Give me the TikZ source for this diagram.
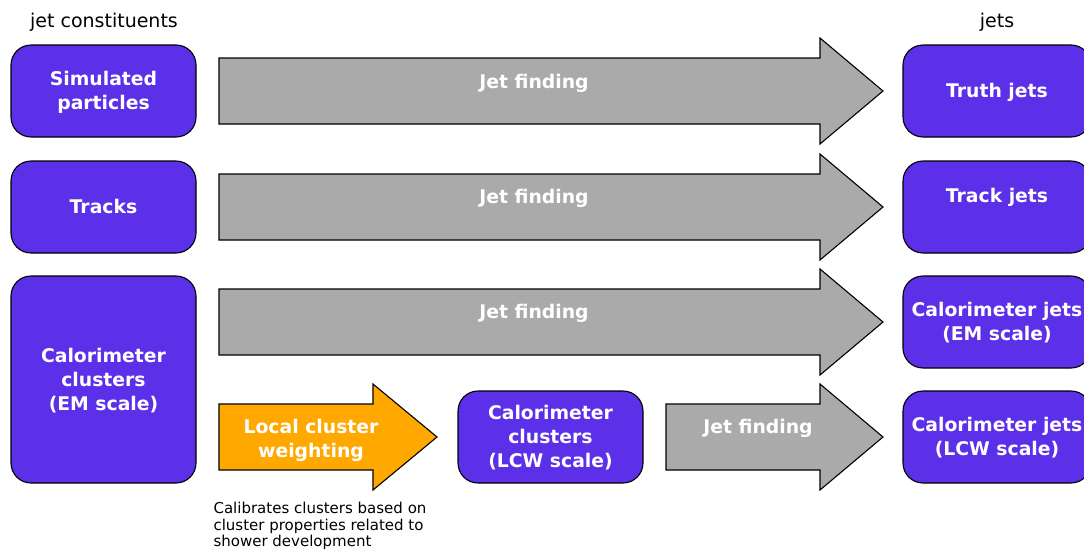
\documentclass[tikz,border=0pt]{standalone}
\usepackage{fontspec}
\setmainfont{DejaVu Sans}
\usepackage{tikz}
\usetikzlibrary{positioning}

\definecolor{boxblue}{RGB}{92,48,232}
\definecolor{findgray}{RGB}{170,170,170}
\definecolor{lcworange}{RGB}{255,168,0}

\tikzset{
  box/.style={draw=black,line width=1.1pt,fill=boxblue,rounded corners=20pt,
    minimum width=185pt,align=center,text=white,text depth=0.5pt,
    font=\bfseries\fontsize{18.8}{24}\selectfont},
  blockarrow/.style={draw=black,line width=1.1pt,line join=miter},
  arrowlabel/.style={text=white,align=center,font=\bfseries\fontsize{18.8}{24}\selectfont},
  plainlabel/.style={text=black,font=\fontsize{19}{22}\selectfont},
  notelabel/.style={text=black,align=left,font=\fontsize{15}{16.5}\selectfont}
}

\begin{document}
\begin{tikzpicture}[x=1pt,y=-1pt]
\useasboundingbox (0,0) rectangle (1084,552);
\clip (0,0) rectangle (1084,552);

% column titles
\node[plainlabel] (constit) at (104,22) {jet constituents};
\node[plainlabel] (jetstitle) at (997,22) {jets};

% constituents
\node[box,minimum height=92pt] (sim) at (103.5,91) {Simulated\\particles};
\node[box,minimum height=92pt] (trk) at (103.5,207) {Tracks};
\node[box,minimum height=207pt] (clus) at (103.5,379.5) {Calorimeter\\clusters\\(EM scale)};
\node[box,minimum height=92pt] (lcwclus) at (550.5,437) {Calorimeter\\clusters\\(LCW scale)};

% jets
\node[box,minimum width=188pt,minimum height=92pt] (truth) at (997,91) {Truth jets};
\node[box,minimum width=188pt,minimum height=92pt,text depth=24pt] (trkjet) at (997,207) {Track jets};
\node[box,minimum width=188pt,minimum height=92pt] (emjet) at (997,322) {Calorimeter jets\\(EM scale)};
\node[box,minimum width=188pt,minimum height=92pt] (lcwjet) at (997,437) {Calorimeter jets\\(LCW scale)};

% jet finding arrows
\draw[blockarrow,fill=findgray] (219,58) -- (820,58) -- (820,38) -- (883,91)
  -- (820,144) -- (820,124) -- (219,124) -- cycle;
\draw[blockarrow,fill=findgray] (219,174) -- (820,174) -- (820,154) -- (883,207)
  -- (820,260) -- (820,240) -- (219,240) -- cycle;
\draw[blockarrow,fill=findgray] (219,289) -- (820,289) -- (820,269) -- (883,322)
  -- (820,375) -- (820,355) -- (219,355) -- cycle;
\draw[blockarrow,fill=findgray] (666,404) -- (820,404) -- (820,384) -- (883,437)
  -- (820,490) -- (820,470) -- (666,470) -- cycle;
% local cluster weighting arrow
\draw[blockarrow,fill=lcworange] (219,404) -- (373,404) -- (373,384) -- (437,437)
  -- (373,490) -- (373,470) -- (219,470) -- cycle;

\node[arrowlabel] (find1) at (534,83) {Jet finding};
\node[arrowlabel] (find2) at (534,198) {Jet finding};
\node[arrowlabel] (find3) at (534,313) {Jet finding};
\node[arrowlabel] (find4) at (758,428) {Jet finding};
\node[arrowlabel] (lcw) at (311,440) {Local cluster\\weighting};

\node[notelabel,anchor=north west] (note) at (210,499) {Calibrates clusters based on\\cluster properties related to\\shower development};

\end{tikzpicture}
\end{document}
